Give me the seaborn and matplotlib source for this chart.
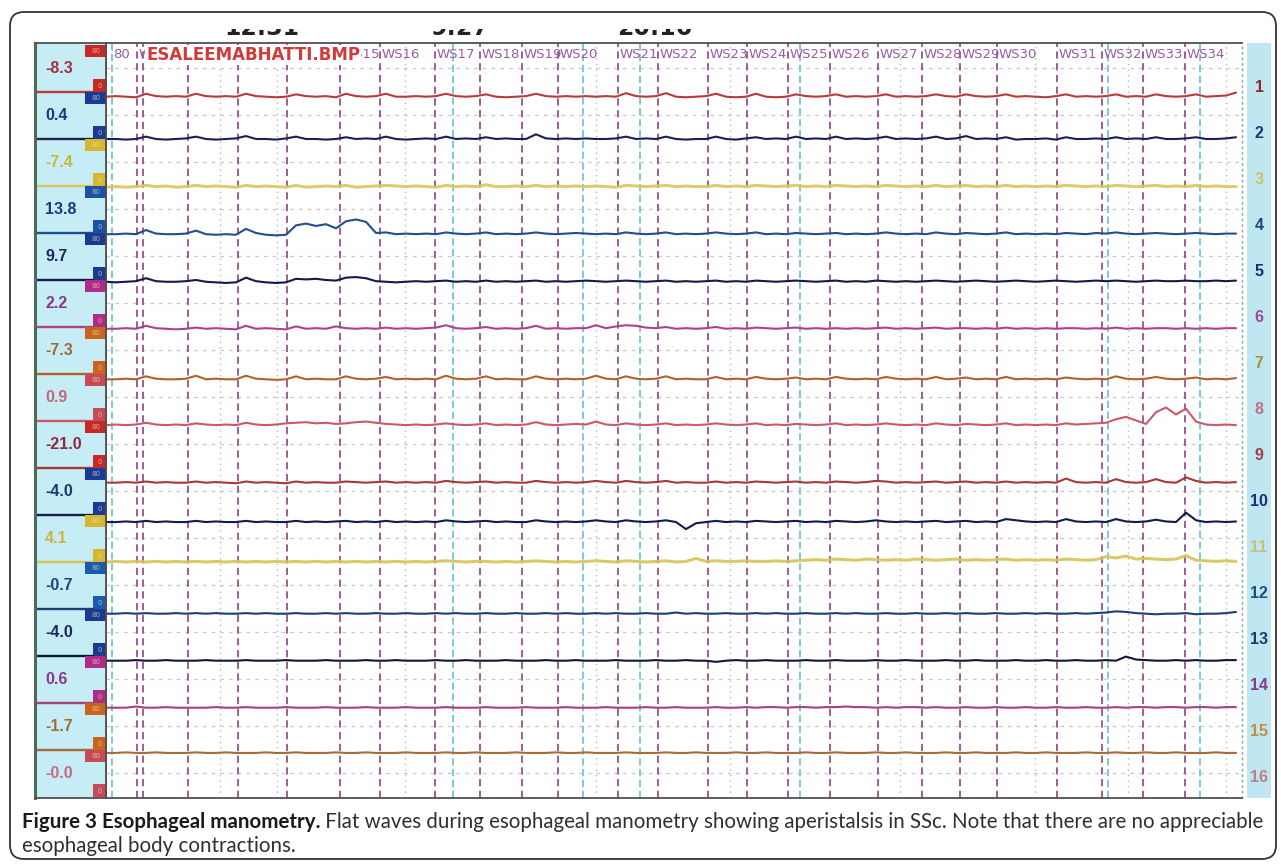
import numpy as np
import pandas as pd
import matplotlib
matplotlib.use("Agg")
import matplotlib.pyplot as plt
from matplotlib.patches import Rectangle, FancyBboxPatch
import seaborn as sns

# ---------------- data (pressure deviations, mmHg, one sample per second) ----------------
sample_t = list(range(114))

ch01 = [0,1,0,-1,5,1,0,1,0,5, 1,0,1,0,5,1,0,-1,0,4, 1,0,1,-1,5,1,0,1,5,0,
        0,1,0,1,5,1,0,1,4,0, -1,0,1,5,1,0,1,0,1,0, 1,0,6,1,0,1,6,0,-1,0,
        1,5,0,-1,0,5,0,-1,0,4, 1,0,1,4,0,1,0,1,4,0, 1,0,1,4,1,0,4,1,0,1,
        4,0,1,0,-1,1,4,0,1,0, 1,4,0,1,0,4,1,0,1,4, 0,1,2,7]
ch02 = [0,0,-1,0,4,0,-1,0,1,4, 0,-1,0,1,5,0,0,-1,1,4, 0,0,-1,0,3,0,1,0,4,0,
        -1,0,1,0,4,0,1,0,3,0, 1,0,0,8,1,0,1,0,1,0, 0,1,4,0,1,0,4,0,-1,0,
        0,4,0,-1,1,3,0,1,0,4, 0,1,0,4,0,1,0,1,4,0, 1,0,1,4,0,1,5,0,1,0,
        3,-1,0,0,1,-1,3,0,0,1, 0,3,0,1,0,3,0,0,1,3, 0,0,1,3]
ch03 = [0,1,0,1,3,1,2,0,1,3, 1,2,1,0,3,1,2,1,0,3, 0,1,2,1,3,0,1,2,3,2,
        1,2,1,0,3,1,2,1,4,1, 1,2,1,3,1,2,1,2,1,2, 1,0,3,2,1,2,3,1,2,1,
        1,3,1,2,1,3,2,1,2,3, 1,2,1,3,2,1,2,1,3,2, 1,2,1,3,1,2,3,1,2,1,
        3,1,2,1,2,1,3,2,1,2, 1,3,2,1,2,3,1,2,1,3, 1,2,1,1]
ch04 = [0,0,1,0,7,1,0,0,1,6, 0,-1,0,-1,9,2,-1,-2,-1,15, 18,14,17,10,22,25,21,2,3,0,
        1,0,1,0,3,1,0,1,3,0, 1,0,1,3,1,0,1,2,1,0, 1,0,3,1,0,1,3,0,1,0,
        1,3,1,0,1,3,0,1,0,2, 1,0,1,2,0,1,0,1,3,1, 0,1,0,3,1,0,2,1,0,1,
        3,0,1,0,1,0,2,1,0,2, 1,3,1,0,1,2,1,0,1,2, 1,0,1,1]
ch05 = [0,-1,0,1,6,1,0,0,1,3, 0,-1,-2,-1,7,1,-1,-2,-1,5, 4,5,3,2,7,8,6,1,0,-1,
        0,1,0,1,2,0,1,0,2,0, 1,0,1,2,0,1,0,1,2,1, 0,1,2,1,0,1,2,0,1,0,
        1,2,0,1,0,2,1,0,1,2, 1,0,1,2,0,1,0,2,1,0, 1,0,1,2,1,0,1,2,1,0,
        1,2,1,0,1,2,1,0,1,2, 1,2,1,0,1,2,1,1,2,1, 1,2,1,2]
ch06 = [0,0,1,0,5,1,0,-1,0,2, 0,1,0,-1,5,0,1,0,-1,4, 0,1,0,4,1,0,1,0,2,0,
        1,0,1,2,6,1,0,1,3,0, 1,0,1,5,0,1,0,1,1,6, 1,4,6,5,2,1,3,0,1,0,
        1,3,0,1,0,2,1,0,1,2, 0,1,0,1,0,1,0,1,2,0, 1,0,1,2,0,1,1,0,1,0,
        2,0,1,0,1,0,1,1,0,1, 0,2,0,1,0,1,1,0,1,0, 1,0,1,1]
ch07 = [0,0,1,0,5,1,0,0,1,6, 0,1,0,0,6,1,0,-1,0,5, 0,1,0,0,5,1,0,1,4,0,
        1,0,1,0,6,1,0,1,5,0, 1,0,0,5,1,0,1,0,1,6, 1,0,5,1,0,1,5,0,1,0,
        0,4,0,1,0,4,1,0,1,3, 0,1,0,4,1,0,1,0,4,1, 0,1,0,4,0,1,3,0,1,0,
        4,0,1,0,1,0,3,1,0,1, 0,5,1,0,1,4,1,0,1,3, 0,1,0,2]
ch08 = [0,1,0,1,4,1,0,1,0,3, 1,0,1,0,4,1,0,1,3,4, 5,3,4,2,3,5,6,4,2,1,
        0,1,0,1,3,1,0,1,3,0, 1,0,1,5,1,0,1,2,1,6, 1,0,3,1,0,1,3,0,1,0,
        1,3,1,0,1,3,0,1,0,2, 1,0,1,3,0,1,0,1,3,1, 0,1,0,3,1,0,2,1,0,1,
        3,0,1,0,1,0,3,1,2,3, 4,10,14,8,2,22,30,18,28,6, 1,0,1,0]
ch09 = [0,0,1,0,2,0,1,0,0,2, 0,1,0,-1,2,0,1,0,-1,2, 0,1,0,0,2,1,0,1,2,0,
        1,0,1,0,3,1,0,1,2,0, 1,0,0,3,1,0,1,0,1,3, 1,0,3,1,0,1,3,0,1,0,
        0,2,0,1,0,2,1,0,1,2, 0,1,0,2,1,0,1,3,2,0, 1,0,1,2,0,1,2,0,1,0,
        2,0,1,0,1,0,7,1,0,1, 0,6,1,0,1,6,1,0,9,3, 0,1,0,1]
ch10 = [0,0,1,0,2,0,1,0,0,2, 0,1,0,0,2,0,1,0,0,2, 0,1,0,1,2,0,1,0,2,0,
        1,0,1,0,3,1,0,1,2,0, 1,0,0,3,1,0,1,0,1,3, 1,0,3,1,0,1,3,0,-12,-2,
        0,2,0,1,0,2,1,0,1,2, 0,1,0,2,1,0,1,3,1,0, 1,0,1,2,0,1,2,0,1,0,
        5,3,1,0,1,0,5,1,0,1, 0,5,1,0,1,4,1,0,16,3, 0,1,0,1]
ch11 = [0,1,0,1,0,1,0,1,0,1, 0,1,0,1,0,1,0,1,0,1, 0,1,0,1,0,1,0,1,0,1,
        0,1,0,1,2,1,0,1,1,0, 1,0,1,2,1,0,1,0,1,2, 1,0,2,1,0,1,2,0,1,6,
        1,2,1,1,2,1,1,2,1,2, 3,4,3,5,4,3,5,4,3,4, 3,5,4,3,4,5,3,4,3,4,
        5,3,4,3,4,3,5,4,3,4, 9,7,10,5,6,5,4,5,11,3, 2,1,2,1]
ch12 = [0,0,1,0,1,0,0,1,0,1, 0,1,0,0,1,0,1,0,0,1, 0,0,1,0,1,0,0,1,0,0,
        1,0,0,1,0,1,0,0,1,0, 0,1,0,0,1,0,1,0,0,1, 0,1,0,0,1,0,0,2,0,1,
        0,0,1,0,0,1,0,1,0,0, 1,0,0,1,0,1,0,0,1,0, 0,1,0,0,1,0,1,0,0,1,
        0,0,1,0,1,0,0,1,0,1, 2,4,3,1,0,-1,0,0,1,-1, 0,0,1,3]
ch13 = [0,0,0,1,0,0,1,0,0,0, 1,0,0,0,1,0,0,0,1,0, 0,0,1,0,0,0,1,0,0,1,
        0,0,0,1,0,0,1,0,0,0, 1,0,0,0,1,0,0,1,0,0, 0,1,0,0,0,1,0,0,1,0,
        0,-2,0,1,0,0,1,0,0,0, 1,0,0,1,0,0,0,1,0,0, 1,0,0,0,1,0,0,1,0,0,
        0,1,0,0,1,0,0,1,0,0, 1,0,7,2,1,0,0,1,0,1, 0,0,1,1]
ch14 = [0,0,0,2,0,0,1,0,0,0, 0,1,0,0,1,0,0,0,1,0, 0,0,1,0,0,0,1,0,0,0,
        1,0,0,0,1,0,0,0,1,0, 0,0,1,0,0,0,1,0,0,0, 1,0,0,0,1,0,0,1,0,0,
        0,1,0,0,1,0,1,1,0,1, 1,0,1,1,2,1,1,0,1,0, 1,1,0,1,0,0,1,0,0,1,
        0,0,1,0,0,1,0,0,1,0, 0,1,0,1,1,0,1,1,0,1, 1,0,1,1]
ch15 = [0,0,1,0,0,1,0,0,0,1, 0,0,1,0,0,0,1,0,0,1, 0,0,0,1,0,0,1,0,0,0,
        1,0,0,0,1,0,0,1,0,0, 0,1,0,0,0,1,0,0,1,0, 0,0,1,0,0,0,1,0,0,1,
        0,0,0,1,0,0,1,0,0,0, 1,0,0,1,0,0,0,1,0,0, 1,0,0,0,1,0,0,1,0,0,
        0,1,0,0,1,0,0,0,1,0, 0,1,0,0,1,0,0,1,0,0, 0,1,0,0]

channels = [str(i) for i in range(1, 17)]
baseline = [-8, 0, -2, -2, -3, -3, -9, -7, -25, -12, 0, -8, -8, -8, -5]
left_vals = ["-8.3", "0.4", "-7.4", "13.8", "9.7", "2.2", "-7.3", "0.9",
             "-21.0", "-4.0", "4.1", "-0.7", "-4.0", "0.6", "-1.7", "-0.0"]
band_top_label = "80"
band_bottom_label = "0"

ws_labels = ["WS10", "WS15", "WS16", "WS17", "WS18", "WS19", "WS20", "WS21", "WS22",
             "WS23", "WS24", "WS25", "WS26", "WS27", "WS28", "WS29", "WS30", "WS31",
             "WS32", "WS33", "WS34"]
ws_label_times = [3.1, 23.4, 27.4, 32.9, 37.4, 41.6, 45.2, 51.2, 55.2, 60.2, 64.1, 68.2,
                  72.4, 77.2, 81.6, 85.4, 89.1, 95.1, 99.6, 103.7, 107.9]
ws_times = [3.1, 3.7, 8.2, 13.2, 18.1, 23.4, 27.4, 32.9, 37.4, 41.6, 45.2, 51.2, 55.2,
            60.2, 64.1, 68.2, 72.4, 77.2, 81.6, 85.4, 89.1, 95.1, 99.6, 103.7, 107.9]
cyan_times = [0.6, 34.7, 47.7, 53.4, 69.4, 100.2, 109.4]
grid_times = [11.4, 17.1, 29.9, 49.0, 62.4, 79.4, 92.9, 102.2, 112.0]
clock_labels = ["12:31", "9:27", "20:16"]
clock_times = [15.6, 35.4, 54.9]
file_label = "ESALEEMABHATTI.BMP"
caption_bold = "Figure 3 Esophageal manometry."
caption_rest = " Flat waves during esophageal manometry showing aperistalsis in SSc. Note that there are no appreciable"
caption_line2 = "esophageal body contractions."

series = [ch01, ch02, ch03, ch04, ch05, ch06, ch07, ch08, ch09, ch10,
          ch11, ch12, ch13, ch14, ch15]

# ---------------- styles ----------------
trace_colors = ["#b83a3a", "#1c2050", "#d8c85e", "#1f4f8f", "#141a48", "#b0408a",
                "#b4602a", "#c85a6a", "#a83838", "#141a4a", "#d8c456", "#203c70",
                "#101838", "#a8407a", "#a86a3a", "#c06a7a"]
label_colors = ["#a03040", "#1a3a7a", "#c8b840", "#1a3a7a", "#1a2a6a", "#8a3a8a",
                "#9a6a3a", "#c06a7a", "#902a3a", "#1a3a6a", "#c8b840", "#1a4a7a",
                "#1a2a5a", "#8a3a8a", "#a0703a", "#c07080"]
square_colors = ["#c42828", "#1a3a9a", "#d4b830", "#1a50a8", "#1a3a90", "#b02a8a",
                 "#c8641e", "#c84a5a", "#c42828", "#1a3a9a", "#d4b830", "#1a5ab0",
                 "#1a3a90", "#b02a8a", "#c8641e", "#c84a5a"]
right_colors = ["#8a2a2a", "#1a3a80", "#d0c060", "#1a4a80", "#1a2a70", "#9a4a9a",
                "#a09040", "#c07080", "#a04040", "#1a3070", "#c8c070", "#1a5080",
                "#1a3a70", "#8a3a8a", "#c09040", "#c08080"]

sns.set_theme(style="white")
plt.rcParams['font.family'] = ['DejaVu Sans']

W, H = 1281, 868
fig = plt.figure(figsize=(W / 100, H / 100), dpi=100)
fig.patch.set_facecolor('white')


def fx(px):
    return px / W


def fy(py):
    return 1 - py / H


def py2y(py):
    return (797 - py) * 80 / 47


BAND = 80
Y0, Y1 = py2y(798), py2y(43)


def line_y(i):
    return (16 - i) * BAND


ax = fig.add_axes([fx(106), fy(798), (1242 - 106) / W, (798 - 43) / H])
axl = fig.add_axes([fx(35), fy(798), (106 - 35) / W, (798 - 43) / H])
axr = fig.add_axes([fx(1247), fy(798), (1271 - 1247) / W, (798 - 43) / H])

# ---------------- main tracing ----------------
ax.set_xlim(0, 113.6)
ax.set_ylim(Y0, Y1)
ax.set_facecolor('white')
for i in range(1, 17):
    ax.axhline(line_y(i) + 41, color='#c8c8c8', lw=0.9, dashes=(3, 4), zorder=0)
for t in grid_times:
    ax.axvline(t, color='#b8b8b8', lw=1.0, dashes=(1, 3), zorder=0)
for t in cyan_times:
    ax.axvline(t, color='#74c4dc', lw=1.3, dashes=(4, 2), zorder=1)
for t in ws_times:
    ax.axvline(t, color='#9a4f8e', lw=1.3, dashes=(4, 2.5), zorder=1)

rows = []
for k, vals in enumerate(series):
    for t, v in zip(sample_t, vals):
        rows.append((channels[k], t, line_y(k + 1) + baseline[k] + v))
df = pd.DataFrame(rows, columns=['channel', 't', 'pressure'])
pal = {channels[k]: trace_colors[k] for k in range(16)}
yellow = ['3', '11']
sns.lineplot(data=df[~df.channel.isin(yellow)], x='t', y='pressure', hue='channel',
             palette=pal, estimator=None, sort=False, legend=False, lw=1.5, ax=ax, zorder=3)
sns.lineplot(data=df[df.channel.isin(yellow)], x='t', y='pressure', hue='channel',
             palette=pal, estimator=None, sort=False, legend=False, lw=2.2, alpha=0.9,
             ax=ax, zorder=3)
ax.set_xlabel('')
ax.set_ylabel('')
ax.set_xticks([])
ax.set_yticks([])
for s in ['top', 'bottom', 'left']:
    ax.spines[s].set_color('#505050')
    ax.spines[s].set_linewidth(1.3)
ax.spines['right'].set_color('#9a9a9a')
ax.spines['right'].set_linestyle((0, (1, 3)))
ax.spines['right'].set_linewidth(1.0)

ylab = py2y(55)
for lab, t in zip(ws_labels, ws_label_times):
    ax.text(t + 0.15, ylab, lab, fontsize=9.5, color='#9a5aa8', va='center', ha='left', zorder=4)
ax.text(0.7, ylab, band_top_label, fontsize=9.5, color='#9a5aa8', va='center', ha='left', zorder=4)
ax.text(4.0, ylab, file_label, fontsize=12, fontweight='bold', color='#d23a3a', va='center',
        ha='left', zorder=6, bbox=dict(fc='white', ec='none', pad=0.5))

# ---------------- left channel panel ----------------
axl.set_xlim(35, 106)
axl.set_ylim(Y0, Y1)
axl.set_facecolor('#c6ecf5')
axl.set_xticks([])
axl.set_yticks([])
axl.spines['left'].set_color('#4d6b55')
axl.spines['left'].set_linewidth(2.2)
for s in ['top', 'bottom', 'right']:
    axl.spines[s].set_color('#505050')
    axl.spines[s].set_linewidth(1.3)
for k in range(16):
    yl = line_y(k + 1)
    axl.add_patch(Rectangle((85, yl + BAND - 21), 21, 21, fc=square_colors[k], ec='none', zorder=2))
    axl.add_patch(Rectangle((93, yl), 13, 22, fc=square_colors[k], ec='none', zorder=2))
    axl.text(95.5, yl + BAND - 10.5, band_top_label, fontsize=5, color='#f0e0a0', alpha=0.7,
             ha='center', va='center', zorder=3)
    axl.text(99.5, yl + 11, band_bottom_label, fontsize=5, color='#f0e0a0', alpha=0.7,
             ha='center', va='center', zorder=3)
    if k < 15:
        axl.plot([35, 93], [yl, yl], color=trace_colors[k], lw=1.7, zorder=2)
    axl.text(45, yl + 40, left_vals[k], fontsize=11.5, fontweight='bold', color=label_colors[k],
             family='Liberation Sans', va='center', ha='left', zorder=3)

# ---------------- right channel numbers ----------------
axr.set_xlim(1247, 1271)
axr.set_ylim(Y0, Y1)
axr.set_facecolor('#bfe7f2')
axr.set_xticks([])
axr.set_yticks([])
for s in axr.spines.values():
    s.set_visible(False)
for k in range(16):
    axr.text(1259, py2y(88 + 46 * k), channels[k], ha='center', va='center', fontsize=11.5,
             fontweight='bold', color=right_colors[k], family='Liberation Sans')

# ---------------- overlay: frame, clock text, caption ----------------
ov = fig.add_axes([0, 0, 1, 1], zorder=10)
ov.set_xlim(0, W)
ov.set_ylim(H, 0)
ov.axis('off')
ov.patch.set_alpha(0)
ov.add_patch(FancyBboxPatch((10, 12), 1266, 847, boxstyle="round,pad=0,rounding_size=14",
                            fill=False, ec='#333333', lw=1.3))
for lab, t in zip(clock_labels, clock_times):
    ov.text(106 + t * 10, 35, lab, fontsize=17, fontweight='bold', ha='center', va='baseline',
            color='#222222', zorder=1)
ov.add_patch(Rectangle((180, 14), 600, 14.5, fc='white', ec='none', zorder=2))

renderer = fig.canvas.get_renderer()
cap_family = ['Liberation Sans Narrow', 'Lato']


def put_caption(fs):
    a = ov.text(22, 822, caption_bold, fontsize=fs, fontweight='bold', family=cap_family,
                color='#1a1a1a', va='center', ha='left')
    ea = a.get_window_extent(renderer)
    b = ov.text(22 + ea.width, 822, caption_rest, fontsize=fs, family=cap_family,
                color='#2f2f2f', va='center', ha='left')
    eb = b.get_window_extent(renderer)
    return a, b, eb.x1


fs = 13.0
a, b, x1 = put_caption(fs)
fs = fs * (1262 - 22) / (x1 - 22)
a.remove()
b.remove()
a, b, x1 = put_caption(fs)
ov.text(22, 846, caption_line2, fontsize=fs, family=cap_family, color='#2f2f2f',
        va='center', ha='left')

fig.savefig('out.png', dpi=100, facecolor='white')
